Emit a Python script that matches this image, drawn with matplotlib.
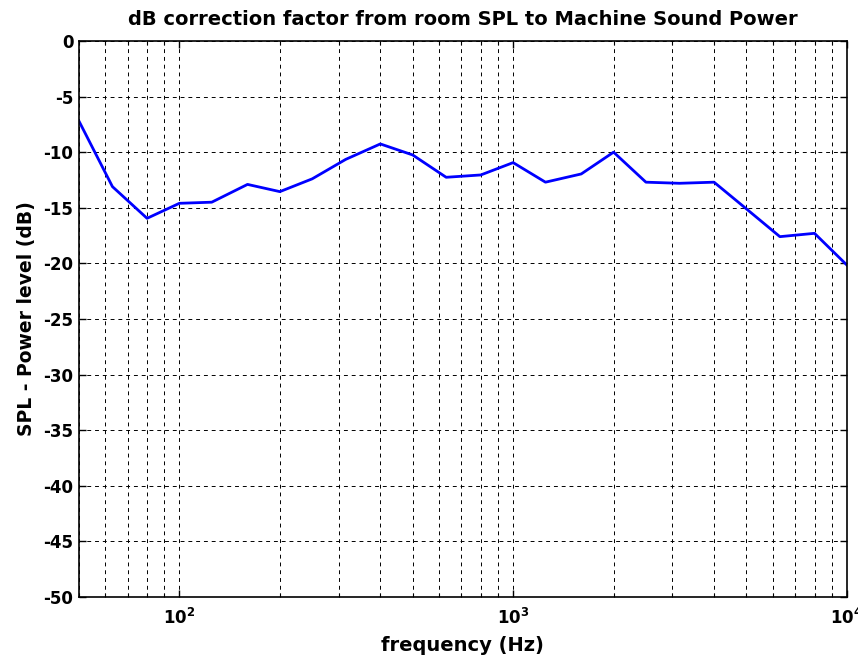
import math
import matplotlib
matplotlib.use("Agg")
import matplotlib.pyplot as plt
from matplotlib.ticker import FixedLocator, FuncFormatter, LogLocator, NullFormatter

freq = [50, 63, 80, 100, 125, 160, 200, 250, 315, 400, 500, 630, 800,
        1000, 1250, 1600, 2000, 2500, 3150, 4000, 5000, 6300, 8000, 10000]
corr = [-7.2, -13.1, -15.95, -14.6, -14.5, -12.9, -13.55, -12.4, -10.65, -9.26,
        -10.25, -12.26, -12.05, -10.94, -12.7, -11.96, -10.0, -12.7, -12.8, -12.7,
        -15.1, -17.6, -17.3, -20.15]
yticks = [0, -5, -10, -15, -20, -25, -30, -35, -40, -45, -50]
xticks = [100, 1000, 10000]

plt.rcParams['font.family'] = ['DejaVu Sans']
plt.rcParams['font.weight'] = 'bold'
plt.rcParams['mathtext.fontset'] = 'dejavusans'

fig = plt.figure(figsize=(8.58, 6.61), dpi=100)
ax = fig.add_axes([0.092, 0.097, 0.895, 0.841])
ax.semilogx(freq, corr, color=(0, 0, 1), lw=2.0)
ax.set_xlim(50, 10000)
ax.set_ylim(-50, 0)
ax.set_yticks(yticks)
ax.set_yticklabels([str(v) for v in yticks])
ax.xaxis.set_major_locator(FixedLocator(xticks))
ax.xaxis.set_major_formatter(FuncFormatter(lambda v, p: r'$\mathbf{10^{%d}}$' % round(math.log10(v))))
ax.xaxis.set_minor_locator(LogLocator(base=10, subs=range(2, 10)))
ax.xaxis.set_minor_formatter(NullFormatter())
ax.grid(True, which='major', color='black', linestyle=(0, (4, 4)), lw=0.7)
ax.grid(True, which='minor', axis='x', color='black', linestyle=(0, (4, 4)), lw=0.7)
ax.tick_params(which='both', direction='in', top=True, right=True, labelsize=12)
ax.tick_params(which='major', length=5, width=1)
ax.tick_params(which='minor', length=3, width=0.8)
ax.tick_params(axis='x', pad=8)
ax.tick_params(axis='y', pad=4)
for s in ax.spines.values():
    s.set_linewidth(1.2)
ax.set_title('dB correction factor from room SPL to Machine Sound Power',
             fontsize=14, fontweight='bold', pad=11.5)
ax.set_xlabel('frequency (Hz)', fontsize=14, fontweight='bold', labelpad=6)
ax.set_ylabel('SPL - Power level (dB)', fontsize=13.5, fontweight='bold', labelpad=5)
fig.savefig('out.png', dpi=100)
